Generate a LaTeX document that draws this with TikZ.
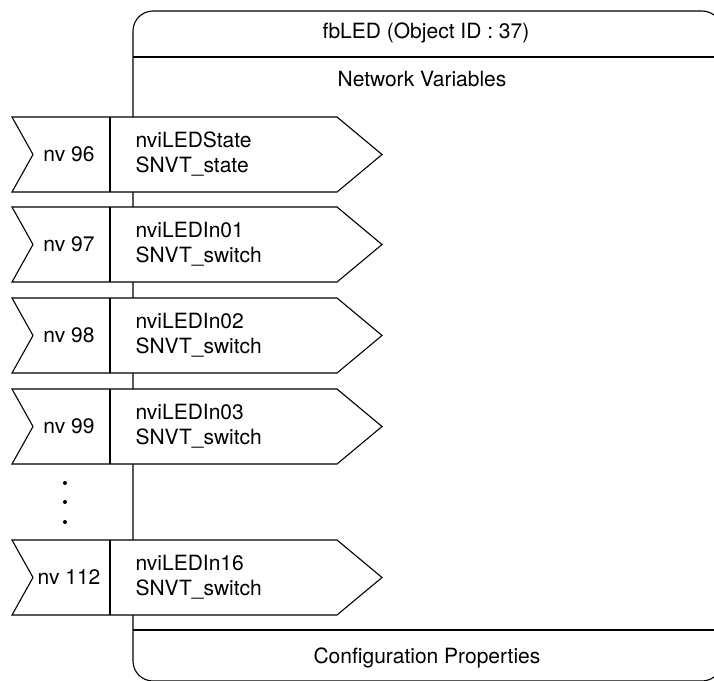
\documentclass[tikz,border=0pt]{standalone}
\usepackage{fontspec}
\setmainfont{TeX Gyre Heros}
\begin{document}
\begin{tikzpicture}[x=1pt,y=-1pt,
  line width=1.1pt,
  lbl/.style={font=\fontsize{21}{25}\selectfont, inner sep=0pt},
  nvbox/.style={draw, fill=white, line join=miter},
  ]
\useasboundingbox (0,0) rectangle (714,680);
% function block outline (clipped at picture edge)
\begin{scope}
  \clip (0,0) rectangle (714,680);
  \draw[rounded corners=20pt] (133,11) rectangle (722,681);
  \draw (133,57) -- (714,57);
  \draw (133,630) -- (714,630);
\end{scope}
\node[lbl] (title) at (426,33) {fbLED (Object ID : 37)};
\node[lbl] (nvhead) at (422,79) {Network Variables};
\node[lbl] (cphead) at (427,658) {Configuration Properties};
% network variable arrows
\foreach \t/\num/\nm/\ty [count=\i] in {
  117/96/nviLEDState/SNVT\_state,
  207/97/nviLEDIn01/SNVT\_switch,
  298/98/nviLEDIn02/SNVT\_switch,
  389/99/nviLEDIn03/SNVT\_switch,
  540/112/nviLEDIn16/SNVT\_switch} {
  \pgfmathsetmacro{\b}{\t+75}
  \pgfmathsetmacro{\m}{\t+37.5}
  \draw[nvbox] (12,\t) -- (337,\t) -- (382,\m) -- (337,\b) -- (12,\b) -- (33,\m) -- cycle;
  \draw (110,\t) -- (110,\b);
  \node[lbl] (nv\i) at (69,\m) {nv \num};
  \node[lbl, anchor=west, align=left] (name\i) at (135,\m) {\nm\\\ty};
}
% ellipsis dots
\fill (65,483) circle (2pt) coordinate (d1);
\fill (65,502) circle (2pt) coordinate (d2);
\fill (65,522) circle (2pt) coordinate (d3);
\end{tikzpicture}
\end{document}
